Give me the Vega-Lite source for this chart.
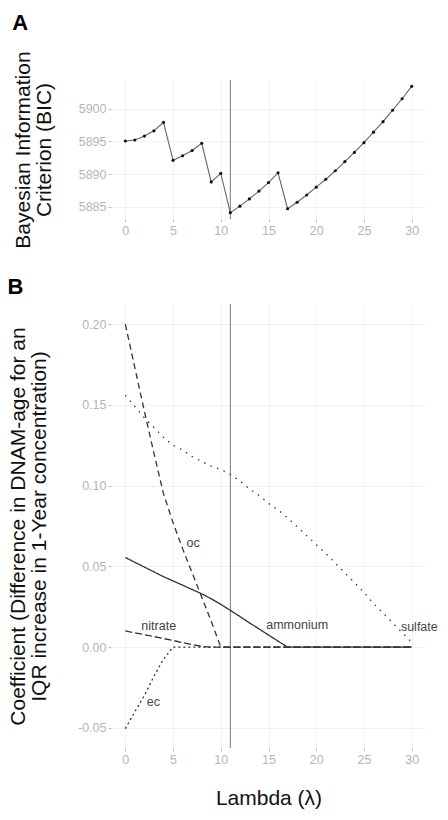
{
  "$schema": "https://vega.github.io/schema/vega-lite/v6.json",
  "background": "white",
  "padding": {"left": 7, "top": 11, "right": 5, "bottom": 5},
  "spacing": 26,
  "config": {
    "font": "Liberation Sans",
    "view": {"stroke": null},
    "axis": {
      "domain": false,
      "labelColor": "#b5b5b5",
      "labelFontSize": 12.5,
      "labelPadding": 2,
      "tickColor": "#c0c0c0",
      "tickSize": 3,
      "gridColor": "#f2f2f2",
      "titleFontSize": 21,
      "titleFontWeight": "normal",
      "titleColor": "#111111",
      "titleLineHeight": 21
    },
    "title": {"fontSize": 22, "fontWeight": "bold", "anchor": "start", "frame": "bounds", "color": "#000000"}
  },
  "datasets": {
    "vline": [{"lambda": 11}],
    "bic": [
      {"lambda": 0, "bic": 5895.05}, {"lambda": 1, "bic": 5895.2}, {"lambda": 2, "bic": 5895.8},
      {"lambda": 3, "bic": 5896.6}, {"lambda": 4, "bic": 5897.9}, {"lambda": 5, "bic": 5892.1},
      {"lambda": 6, "bic": 5892.8}, {"lambda": 7, "bic": 5893.6}, {"lambda": 8, "bic": 5894.7},
      {"lambda": 9, "bic": 5888.8}, {"lambda": 10, "bic": 5890.1}, {"lambda": 11, "bic": 5884.1},
      {"lambda": 12, "bic": 5885.1}, {"lambda": 13, "bic": 5886.2}, {"lambda": 14, "bic": 5887.4},
      {"lambda": 15, "bic": 5888.7}, {"lambda": 16, "bic": 5890.2}, {"lambda": 17, "bic": 5884.7},
      {"lambda": 18, "bic": 5885.7}, {"lambda": 19, "bic": 5886.8}, {"lambda": 20, "bic": 5888.0},
      {"lambda": 21, "bic": 5889.2}, {"lambda": 22, "bic": 5890.5}, {"lambda": 23, "bic": 5891.9},
      {"lambda": 24, "bic": 5893.3}, {"lambda": 25, "bic": 5894.8}, {"lambda": 26, "bic": 5896.4},
      {"lambda": 27, "bic": 5898.0}, {"lambda": 28, "bic": 5899.75}, {"lambda": 29, "bic": 5901.5},
      {"lambda": 30, "bic": 5903.4}
    ],
    "coef": [
      {"variable": "oc", "lambda": 0, "coef": 0.200}, {"variable": "oc", "lambda": 1, "coef": 0.173},
      {"variable": "oc", "lambda": 2, "coef": 0.146}, {"variable": "oc", "lambda": 3, "coef": 0.120},
      {"variable": "oc", "lambda": 4, "coef": 0.095}, {"variable": "oc", "lambda": 5, "coef": 0.077},
      {"variable": "oc", "lambda": 6, "coef": 0.061}, {"variable": "oc", "lambda": 7, "coef": 0.046},
      {"variable": "oc", "lambda": 8, "coef": 0.031}, {"variable": "oc", "lambda": 9, "coef": 0.016},
      {"variable": "oc", "lambda": 10, "coef": 0.0}, {"variable": "oc", "lambda": 30, "coef": 0.0},

      {"variable": "nitrate", "lambda": 0, "coef": 0.0100}, {"variable": "nitrate", "lambda": 1, "coef": 0.0088},
      {"variable": "nitrate", "lambda": 2, "coef": 0.0077}, {"variable": "nitrate", "lambda": 3, "coef": 0.0065},
      {"variable": "nitrate", "lambda": 4, "coef": 0.0053}, {"variable": "nitrate", "lambda": 5, "coef": 0.0041},
      {"variable": "nitrate", "lambda": 6, "coef": 0.0028}, {"variable": "nitrate", "lambda": 7, "coef": 0.0016},
      {"variable": "nitrate", "lambda": 8, "coef": 0.0004}, {"variable": "nitrate", "lambda": 9, "coef": 0.0},
      {"variable": "nitrate", "lambda": 30, "coef": 0.0},

      {"variable": "ec", "lambda": 0, "coef": -0.0505}, {"variable": "ec", "lambda": 1, "coef": -0.040},
      {"variable": "ec", "lambda": 2, "coef": -0.030}, {"variable": "ec", "lambda": 3, "coef": -0.018},
      {"variable": "ec", "lambda": 4, "coef": -0.0075}, {"variable": "ec", "lambda": 5, "coef": 0.0},
      {"variable": "ec", "lambda": 30, "coef": 0.0},

      {"variable": "ammonium", "lambda": 0, "coef": 0.0555}, {"variable": "ammonium", "lambda": 4, "coef": 0.0436},
      {"variable": "ammonium", "lambda": 5, "coef": 0.0410}, {"variable": "ammonium", "lambda": 8, "coef": 0.0330},
      {"variable": "ammonium", "lambda": 9, "coef": 0.0299}, {"variable": "ammonium", "lambda": 10, "coef": 0.0265},
      {"variable": "ammonium", "lambda": 11, "coef": 0.0227}, {"variable": "ammonium", "lambda": 12, "coef": 0.0190},
      {"variable": "ammonium", "lambda": 13, "coef": 0.0150}, {"variable": "ammonium", "lambda": 14, "coef": 0.0113},
      {"variable": "ammonium", "lambda": 15, "coef": 0.0075}, {"variable": "ammonium", "lambda": 16, "coef": 0.0037},
      {"variable": "ammonium", "lambda": 17, "coef": 0.0}, {"variable": "ammonium", "lambda": 30, "coef": 0.0},

      {"variable": "sulfate", "lambda": 0, "coef": 0.156}, {"variable": "sulfate", "lambda": 1, "coef": 0.149},
      {"variable": "sulfate", "lambda": 2, "coef": 0.142}, {"variable": "sulfate", "lambda": 3, "coef": 0.136},
      {"variable": "sulfate", "lambda": 4, "coef": 0.130}, {"variable": "sulfate", "lambda": 5, "coef": 0.125},
      {"variable": "sulfate", "lambda": 6, "coef": 0.122}, {"variable": "sulfate", "lambda": 7, "coef": 0.118},
      {"variable": "sulfate", "lambda": 8, "coef": 0.115}, {"variable": "sulfate", "lambda": 9, "coef": 0.112},
      {"variable": "sulfate", "lambda": 10, "coef": 0.110}, {"variable": "sulfate", "lambda": 11, "coef": 0.107},
      {"variable": "sulfate", "lambda": 12, "coef": 0.103}, {"variable": "sulfate", "lambda": 13, "coef": 0.098},
      {"variable": "sulfate", "lambda": 14, "coef": 0.094}, {"variable": "sulfate", "lambda": 15, "coef": 0.089},
      {"variable": "sulfate", "lambda": 16, "coef": 0.085}, {"variable": "sulfate", "lambda": 17, "coef": 0.080},
      {"variable": "sulfate", "lambda": 18, "coef": 0.0745}, {"variable": "sulfate", "lambda": 19, "coef": 0.069},
      {"variable": "sulfate", "lambda": 20, "coef": 0.0635}, {"variable": "sulfate", "lambda": 21, "coef": 0.058},
      {"variable": "sulfate", "lambda": 22, "coef": 0.052}, {"variable": "sulfate", "lambda": 23, "coef": 0.046},
      {"variable": "sulfate", "lambda": 24, "coef": 0.040}, {"variable": "sulfate", "lambda": 25, "coef": 0.034},
      {"variable": "sulfate", "lambda": 26, "coef": 0.027}, {"variable": "sulfate", "lambda": 27, "coef": 0.021},
      {"variable": "sulfate", "lambda": 28, "coef": 0.015}, {"variable": "sulfate", "lambda": 29, "coef": 0.009},
      {"variable": "sulfate", "lambda": 30, "coef": 0.003}
    ],
    "labels": [
      {"label": "oc", "lambda": 7.1, "coef": 0.0644},
      {"label": "nitrate", "lambda": 3.5, "coef": 0.0128},
      {"label": "ec", "lambda": 2.94, "coef": -0.034},
      {"label": "ammonium", "lambda": 18.0, "coef": 0.0134},
      {"label": "sulfate", "lambda": 30.8, "coef": 0.0124}
    ]
  },
  "vconcat": [
    {
      "title": {"text": "A", "offset": 16},
      "width": 315,
      "height": 139,
      "layer": [
        {
          "data": {"name": "vline"},
          "mark": {"type": "rule", "color": "#777777", "strokeWidth": 1},
          "encoding": {
            "x": {"field": "lambda", "type": "quantitative", "scale": {"domain": [-1.5, 31.5], "nice": false, "zero": false},
                  "axis": {"title": null, "values": [0, 5, 10, 15, 20, 25, 30], "grid": true}}
          }
        },
        {
          "data": {"name": "bic"},
          "mark": {"type": "line", "color": "#666666", "strokeWidth": 1.1},
          "encoding": {
            "x": {"field": "lambda", "type": "quantitative", "scale": {"domain": [-1.5, 31.5], "nice": false, "zero": false}},
            "y": {"field": "bic", "type": "quantitative", "scale": {"domain": [5883.135, 5904.365], "nice": false, "zero": false},
                  "axis": {"title": ["Bayesian Information", "Criterion (BIC)"], "values": [5885, 5890, 5895, 5900], "format": "d", "grid": true, "titlePadding": 24}}
          }
        },
        {
          "data": {"name": "bic"},
          "mark": {"type": "point", "filled": true, "color": "#111111", "size": 10, "opacity": 1},
          "encoding": {
            "x": {"field": "lambda", "type": "quantitative"},
            "y": {"field": "bic", "type": "quantitative"}
          }
        }
      ]
    },
    {
      "title": {"text": "B", "offset": 5},
      "width": 315,
      "height": 444,
      "layer": [
        {
          "data": {"name": "vline"},
          "mark": {"type": "rule", "color": "#777777", "strokeWidth": 1},
          "encoding": {
            "x": {"field": "lambda", "type": "quantitative", "scale": {"domain": [-1.5, 31.5], "nice": false, "zero": false},
                  "axis": {"title": "Lambda (λ)", "values": [0, 5, 10, 15, 20, 25, 30], "grid": true, "titlePadding": 22}}
          }
        },
        {
          "data": {"name": "coef"},
          "mark": {"type": "line", "color": "#333333", "strokeWidth": 1.3},
          "encoding": {
            "x": {"field": "lambda", "type": "quantitative"},
            "y": {"field": "coef", "type": "quantitative", "scale": {"domain": [-0.0625, 0.2125], "nice": false, "zero": false},
                  "axis": {"title": ["Coefficient (Difference in DNAM-age for an", "IQR increase in 1-Year concentration)"],
                           "values": [-0.05, 0, 0.05, 0.1, 0.15, 0.2], "labelExpr": "replace(format(datum.value, '.2f'), '\u2212', '-')",
                           "grid": true, "titlePadding": 28}},
            "detail": {"field": "variable"},
            "strokeDash": {"field": "variable", "type": "nominal", "legend": null,
                           "scale": {"domain": ["oc", "nitrate", "ec", "ammonium", "sulfate"],
                                     "range": [[6, 4], [7, 3], [2, 3], [1, 0], [1.5, 5.5]]}}
          }
        },
        {
          "data": {"name": "labels"},
          "mark": {"type": "text", "fontSize": 12.5, "color": "#444444"},
          "encoding": {
            "x": {"field": "lambda", "type": "quantitative"},
            "y": {"field": "coef", "type": "quantitative"},
            "text": {"field": "label"}
          }
        }
      ]
    }
  ]
}
